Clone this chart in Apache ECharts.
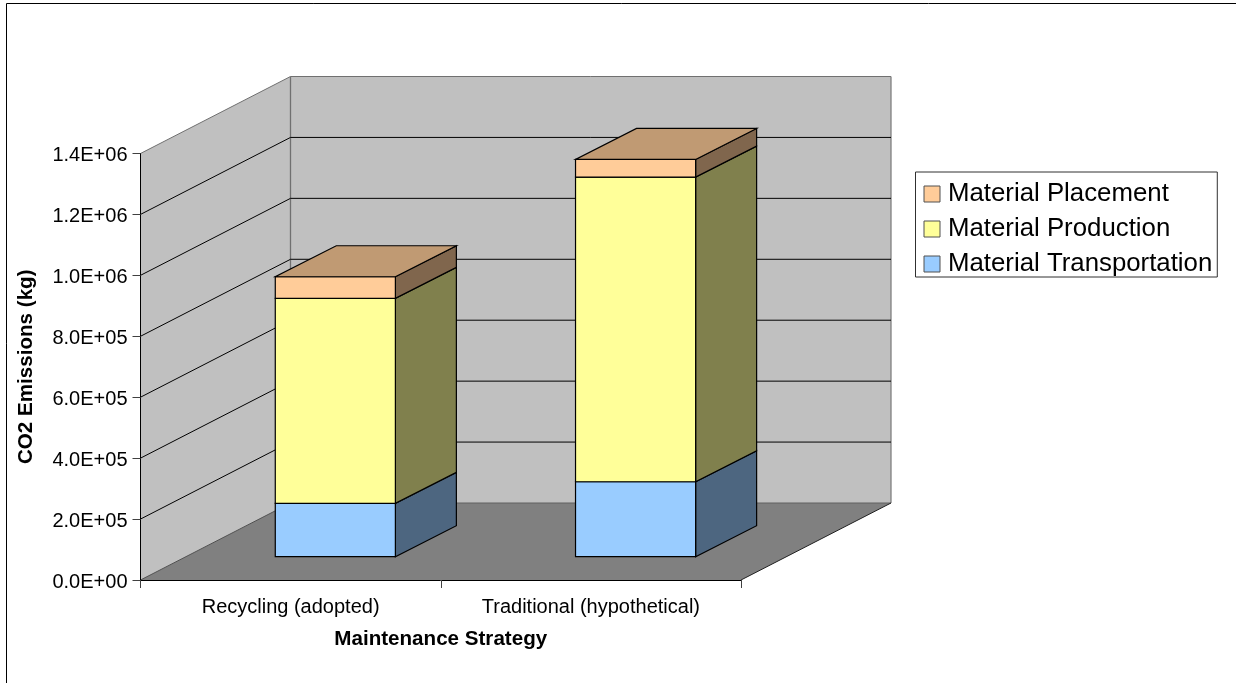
<!DOCTYPE html>
<html>
<head>
<meta charset="utf-8">
<style>html,body{margin:0;padding:0;background:#fff}#c{width:1236px;height:683px}</style>
<script src="https://cdn.jsdelivr.net/npm/echarts@6/dist/echarts.min.js"></script>
</head>
<body>
<div id="c"></div>
<script>
const categories = ['Recycling (adopted)', 'Traditional (hypothetical)'];
const transportation = [175000, 246000];
const production = [673000, 1000000];
const placement = [71000, 58000];
const yTicks = [0, 200000, 400000, 600000, 800000, 1000000, 1200000, 1400000];

const seriesDefs = [
  {name: 'Material Transportation', values: transportation, front: '#99CCFF', side: '#4D6680', top: '#7399BF'},
  {name: 'Material Production', values: production, front: '#FFFF99', side: '#80804D', top: '#BFBF73'},
  {name: 'Material Placement', values: placement, front: '#FFCC99', side: '#80664D', top: '#C09A73'}
];

const FONT = '"Liberation Sans", Arial, sans-serif';
const WALL = [150, -77];       // depth of the plot box
const BAR_SHIFT = [44.7, -23.3]; // front of bars relative to the front plane
const BAR_DEPTH = [61, -31];
const BAR_WIDTH = 0.4;          // fraction of a category band

const poly = (pts, fill, stroke, w) => ({
  type: 'polygon',
  shape: {points: pts},
  style: {fill: fill, stroke: stroke, lineWidth: w === undefined ? 1 : w, lineJoin: 'miter'}
});
const seg = (a, b, stroke, w) => ({
  type: 'line',
  shape: {x1: a[0], y1: a[1], x2: b[0], y2: b[1]},
  style: {stroke: stroke, lineWidth: w || 1}
});
const add = (p, d) => [p[0] + d[0], p[1] + d[1]];

function wallsItem(params, api) {
  const r = params.coordSys;
  const x0 = r.x, x1 = r.x + r.width, y0 = r.y + r.height, y1 = r.y;
  const a = [x0, y0], b = [x1, y0], c = [x0, y1];
  return {type: 'group', children: [
    poly([a, c, add(c, WALL), add(a, WALL)], '#C0C0C0', null),
    poly([add(a, WALL), add(c, WALL), add(c, [x1 - x0 + WALL[0], WALL[1]]), add(b, WALL)], '#C0C0C0', null),
    poly([a, b, add(b, WALL), add(a, WALL)], '#808080', null),
    seg(c, add(c, WALL), '#707070'),
    seg(add(c, WALL), add(c, [x1 - x0 + WALL[0], WALL[1]]), '#707070'),
    seg(add(c, WALL), add(a, WALL), '#707070', 1.3),
    seg(add(b, WALL), add(c, [x1 - x0 + WALL[0], WALL[1]]), '#808080', 1.3),
    seg(a, add(a, WALL), '#505050'),
    seg(add(a, WALL), add(b, WALL), '#606060'),
    seg(b, add(b, WALL), '#202020')
  ]};
}

function gridItem(params, api) {
  const r = params.coordSys;
  const y = api.coord([0, api.value(1)])[1];
  const a = [r.x, y];
  const back = add(a, WALL);
  return {type: 'group', children: [
    seg(a, back, '#000'),
    seg(back, [back[0] + r.width, back[1]], '#000')
  ]};
}

function barItem(isTop) {
  return function (params, api) {
    const cat = api.value(0);
    const half = api.size([1, 0])[0] * BAR_WIDTH / 2;
    const lo = add(api.coord([cat, api.value(1)]), BAR_SHIFT);
    const hi = add(api.coord([cat, api.value(2)]), BAR_SHIFT);
    const bl = [lo[0] - half, lo[1]], br = [lo[0] + half, lo[1]];
    const tl = [lo[0] - half, hi[1]], tr = [lo[0] + half, hi[1]];
    const def = seriesDefs[params.seriesIndex - 2];
    const children = [
      poly([br, tr, add(tr, BAR_DEPTH), add(br, BAR_DEPTH)], def.side, '#000', 1.2),
      poly([bl, br, tr, tl], def.front, '#000', 1.2)
    ];
    if (isTop) children.push(poly([tl, tr, add(tr, BAR_DEPTH), add(tl, BAR_DEPTH)], def.top, '#000', 1.2));
    return {type: 'group', children: children};
  };
}

const running = categories.map(() => 0);
const barSeries = seriesDefs.map((d, si) => {
  const data = d.values.map((v, i) => {
    const row = [i, running[i], running[i] + v];
    running[i] += v;
    return row;
  });
  return {
    type: 'custom', name: d.name, z: 5, clip: false, silent: true,
    coordinateSystem: 'cartesian2d',
    encode: {x: 0, y: 2},
    itemStyle: {color: d.front},
    renderItem: barItem(si === seriesDefs.length - 1),
    data: data
  };
});

const fmt = v => {
  if (v === 0) return '0.0E+00';
  const e = Math.floor(Math.log10(v) + 1e-9);
  const m = (v / Math.pow(10, e)).toFixed(1);
  return m + 'E+' + String(e).padStart(2, '0');
};

const chart = echarts.init(document.getElementById('c'), null, {renderer: 'canvas'});
chart.setOption({
  animation: false,
  backgroundColor: '#fff',
  textStyle: {fontFamily: FONT},
  grid: {left: 140.5, top: 153.5, width: 600.5, height: 426.5, containLabel: false},
  xAxis: {
    type: 'category', data: categories, z: 3,
    axisLine: {show: true, lineStyle: {color: '#000', width: 1}},
    axisTick: {show: true, alignWithLabel: false, length: 8, lineStyle: {color: '#404040'}},
    axisLabel: {color: '#000', fontSize: 20, margin: 17, fontFamily: FONT},
    splitLine: {show: false},
    name: 'Maintenance Strategy', nameLocation: 'middle', nameGap: 49,
    nameTextStyle: {color: '#000', fontSize: 20.6, fontWeight: 'bold', fontFamily: FONT}
  },
  yAxis: {
    type: 'value', min: 0, max: 1400000, interval: 200000, z: 3,
    axisLine: {show: true, onZero: false, lineStyle: {color: '#000', width: 1}},
    axisTick: {show: true, length: 8, lineStyle: {color: '#404040'}},
    axisLabel: {color: '#000', fontSize: 20, margin: 13, fontFamily: FONT, formatter: fmt, verticalAlign: 'top', lineHeight: 4},
    splitLine: {show: false},
    name: 'CO2 Emissions (kg)', nameLocation: 'middle', nameGap: 104, nameRotate: 90,
    nameTextStyle: {color: '#000', fontSize: 20.6, fontWeight: 'bold', fontFamily: FONT}
  },
  legend: {
    left: 915.5, top: 172, orient: 'vertical', selectedMode: false,
    padding: [9, 5, 0, 8], itemGap: 9, itemWidth: 16, itemHeight: 16,
    backgroundColor: '#fff', borderColor: '#303030', borderWidth: 1, borderRadius: 0,
    textStyle: {color: '#000', fontSize: 25.8, fontFamily: FONT, padding: [0, 0, 0, 3]},
    data: seriesDefs.slice().reverse().map(d => ({
      name: d.name, icon: 'rect',
      itemStyle: {color: d.front, borderColor: '#505050', borderWidth: 1}
    }))
  },
  graphic: [{
    type: 'polyline', silent: true,
    shape: {points: [[6.5, 683], [6.5, 3.5], [1236, 3.5]]},
    style: {fill: null, stroke: '#000', lineWidth: 1}
  }],
  series: [
    {type: 'custom', name: 'walls', z: 1, clip: false, silent: true, coordinateSystem: 'cartesian2d',
     encode: {x: 0, y: 1}, renderItem: wallsItem, data: [[0, 0]]},
    {type: 'custom', name: 'gridlines', z: 2, clip: false, silent: true, coordinateSystem: 'cartesian2d',
     encode: {x: 0, y: 1}, renderItem: gridItem, data: yTicks.slice(1, -1).map(v => [0, v])}
  ].concat(barSeries)
});
</script>
</body>
</html>
